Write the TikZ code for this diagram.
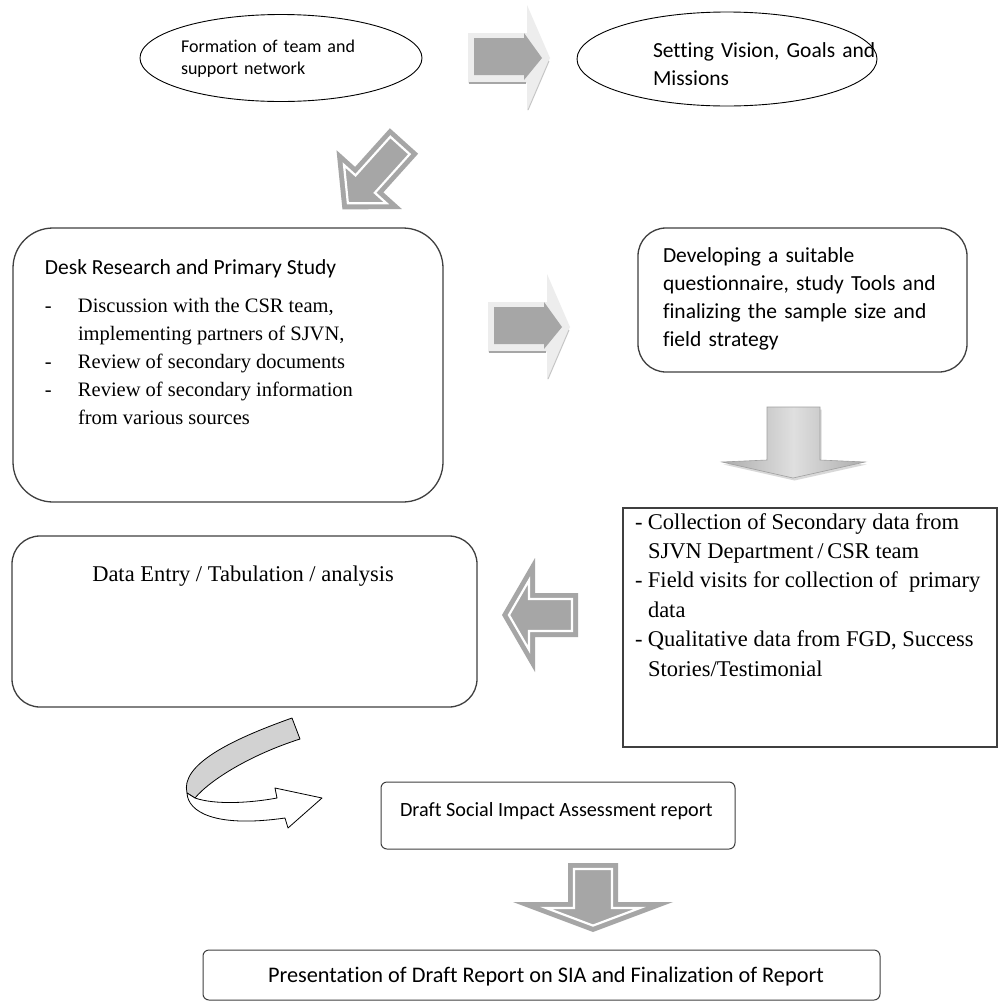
\documentclass[tikz,border=0pt]{standalone}
\usepackage{fontspec}
\setmainfont{Liberation Serif}
\newfontfamily\calib{Carlito}[Ligatures=NoCommon]
\usetikzlibrary{shapes.geometric,shadows}
\definecolor{arrgray}{HTML}{A6A6A6}
\definecolor{bevlight}{HTML}{EDEDED}
\definecolor{boxgray}{HTML}{3F3F3F}
\newcommand\arrowpoly[4]{(0,-#1) -- (#2,-#1) -- (#2,-#3) -- (#2+#4,0) -- (#2,#3) -- (#2,#1) -- (0,#1) -- cycle}
% outlined block arrow: tail x, tail y, rotation, body half width, body length, head half width, head length (outer)
\newcommand\myoutarrow[7]{%
  \begin{scope}[shift={(#1,#2)}, rotate=#3]
    \pgfmathsetmacro\myd{6}
    \pgfmathsetmacro\mysa{#6/sqrt(#6*#6+#7*#7)}
    \pgfmathsetmacro\mytip{#5+#7-\myd/\mysa}
    \pgfmathsetmacro\myih{(#6/#7)*(#7-\myd/\mysa-\myd)}
    \pgfmathsetmacro\myiw{#4-\myd}
    \pgfmathsetmacro\myib{#5+\myd}
    \fill[arrgray] \arrowpoly{#4}{#5}{#6}{#7};
    \path[draw=white, line width=2.2pt, line join=miter]
      (\myd,-\myiw) -- (\myib,-\myiw) -- (\myib,-\myih) -- (\mytip,0) -- (\myib,\myih) -- (\myib,\myiw) -- (\myd,\myiw) -- cycle;
  \end{scope}}
\newcommand\mybevelarrow[2]{%
  \begin{scope}[shift={(#1,#2)}]
    \fill[bevlight] \arrowpoly{25}{59}{53}{23};
    \draw[arrgray, line width=1.5pt] (1,25) -- (58,25);
    \draw[gray!45, line width=1pt] (81,3) -- (60,52);
    \fill[arrgray] (6,-20) -- (56,-20) -- (56,-25) -- (74,0) -- (56,22) -- (56,17) -- (6,17) -- cycle;
  \end{scope}}
\tikzset{
  every node/.style={inner sep=0pt, outer sep=0pt},
  oval/.style={ellipse, draw=black, line width=0.9pt},
  roundbox/.style={rectangle, draw=boxgray, line width=1.3pt},
  sqbox/.style={rectangle, draw=boxgray, line width=1.6pt},
  sansA/.style={font=\calib\fontsize{18}{22}\selectfont},
  sansB/.style={font=\calib\fontsize{21.5}{28.3}\selectfont},
  sansC/.style={font=\calib\fontsize{20.2}{24}\selectfont},
  serifA/.style={font=\fontsize{20.5}{28}\selectfont},
  serifB/.style={font=\fontsize{22.5}{29.4}\selectfont},
}
\begin{document}
\begin{tikzpicture}[x=1pt,y=-1pt]
\useasboundingbox[fill=white] (0,0) rectangle (999,1002);

% ellipses
\node[oval, minimum width=282, minimum height=87] (e1) at (281,58) {};
\node[sansA, anchor=base west, text width=200, align=left] (e1t) at (181,52) {Formation of team and\\support network};
\node[oval, minimum width=300, minimum height=94] (e2) at (727,59) {};
\node[font=\calib\fontsize{21.5}{28}\selectfont, anchor=base west, text width=230, align=left] (e2t) at (653,57) {Setting Vision, Goals and\\Missions};

% bevel arrows
\mybevelarrow{468}{58}
\mybevelarrow{488}{327}

% down-left outlined arrow
\myoutarrow{404}{141}{-132}{19}{52}{44}{40}

% Desk research box
\node[roundbox, rounded corners=40pt, minimum width=430, minimum height=274] (desk) at (228,365) {};
\node[sansB, anchor=base west] (deskt) at (45,274) {Desk Research and Primary Study};
\node[serifA, anchor=base west] (deskl) at (45,312) {\begin{tabular}[t]{@{}p{33pt}@{}l@{}}
-&Discussion with the CSR team,\\
 &implementing partners of SJVN,\\
-&Review of secondary documents\\
-&Review of secondary information\\
 &from various sources
\end{tabular}};

% Developing box
\node[roundbox, rounded corners=28pt, minimum width=329, minimum height=144] (dev) at (802.5,300) {};
\node[sansB, anchor=base west, text width=300, align=left] (devt) at (663,262) {Developing a suitable\\questionnaire, study Tools and\\finalizing the sample size and\\field strategy};

% 3D down arrow
\path[draw=gray!75, line width=0.6pt, left color=gray!65, right color=gray!65, middle color=gray!25,
  drop shadow={shadow xshift=1.5pt, shadow yshift=-2.5pt, opacity=0.3}]
  (767,407) -- (820,407) -- (820,460) -- (865,462) -- (793,478) -- (722,462) -- (767,460) -- cycle;

% Collection box
\node[sqbox, minimum width=374, minimum height=239] (coll) at (810,627.5) {};
\node[serifB, anchor=base west] (collt) at (635,529) {\begin{tabular}[t]{@{}p{13pt}@{}l@{}}
-&Collection of Secondary data from\\
 &SJVN Department\,/\,CSR team\\
-&Field visits for collection of \ primary\\
 &data\\
-&Qualitative data from FGD, Success\\
 &Stories/Testimonial
\end{tabular}};

% left outlined arrow
\myoutarrow{578}{615}{180}{22}{43}{57}{33}

% Data entry box
\node[roundbox, rounded corners=28pt, minimum width=465, minimum height=171] (data) at (244.5,621.5) {};
\node[font=\fontsize{22.5}{27}\selectfont, anchor=base] (datat) at (243,581) {Data Entry / Tabulation / analysis};

% curved arrow
\path[draw=black, line width=0.8pt, fill=gray!35, line join=round]
  (292,718) .. controls (230,740) and (180,765) .. (187,793) -- (195,798)
  .. controls (210,780) and (250,755) .. (300,739) -- cycle;
\path[draw=black, line width=0.8pt, fill=white, line join=round]
  (187,793) .. controls (188,812) and (215,828) .. (285,818) -- (288,828) -- (322,798) -- (275,788) -- (277,798)
  .. controls (250,803) and (215,805) .. (195,798) -- cycle;

% Draft box
\node[roundbox, line width=1pt, rounded corners=6pt, minimum width=354, minimum height=67] (draft) at (558,815.5) {};
\node[sansC, anchor=base west] (draftt) at (400,816) {Draft Social Impact Assessment report};

% bottom down arrow
\myoutarrow{593}{863}{-90}{25}{39}{80}{30}

% Presentation box
\node[roundbox, line width=1pt, rounded corners=6pt, minimum width=677, minimum height=50] (pres) at (541.5,975) {};
\node[font=\calib\fontsize{22.3}{26}\selectfont, anchor=base west] (prest) at (268,982) {Presentation of Draft Report on SIA and Finalization of Report};
\end{tikzpicture}
\end{document}
